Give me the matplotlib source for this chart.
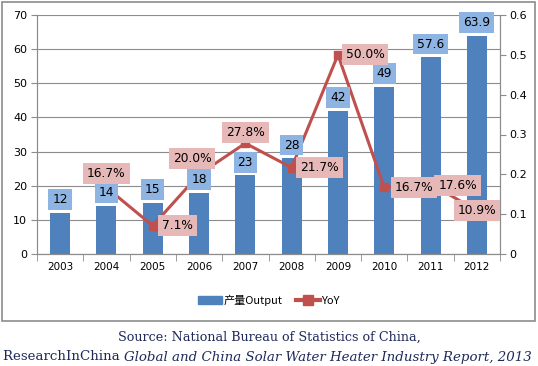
import numpy as np
import matplotlib.pyplot as plt
from matplotlib.patches import Rectangle
from matplotlib.lines import Line2D
from matplotlib.patches import Patch

plt.rcParams['font.family'] = ['DejaVu Sans', 'Noto Sans CJK SC']

years = ['2003', '2004', '2005', '2006', '2007', '2008', '2009', '2010', '2011', '2012']
output = [12, 14, 15, 18, 23, 28, 42, 49, 57.6, 63.9]
output_labels = ['12', '14', '15', '18', '23', '28', '42', '49', '57.6', '63.9']
yoy = [np.nan, 0.167, 0.071, 0.200, 0.278, 0.217, 0.500, 0.167, 0.176, 0.109]
yoy_labels = ['', '16.7%', '7.1%', '20.0%', '27.8%', '21.7%', '50.0%', '16.7%', '17.6%', '10.9%']
# label offsets (points) for the yoy boxes
yoy_offsets = [(0, 0), (0, 10), (18, 0), (-5, 11.5), (0, 8), (20, 0), (19.5, 0), (21.5, 0), (19.5, -1), (0, 0)]

bar_col = '#4F81BD'
line_col = '#C0504D'

fig = plt.figure(figsize=(5.38, 3.66), dpi=100)
fig.patch.set_facecolor('white')
# outer frame
fig.add_artist(Rectangle((2 / 538, 1 - 321 / 366), 533 / 538, 319 / 366,
                         transform=fig.transFigure, fill=False, edgecolor='#8c8c8c', lw=1.2))

ax = fig.add_axes([37 / 538, 1 - 254 / 366, 463 / 538, 239 / 366])
x = np.arange(len(years))
ax.bar(x, output, width=0.43, color=bar_col, zorder=2)
ax.set_xlim(-0.5, len(years) - 0.5)
ax.set_ylim(0, 70)
ax.set_yticks(range(0, 71, 10))
ax.yaxis.grid(True, color='#8c8c8c', lw=0.8)
ax.set_axisbelow(True)
ax.set_xticks(x)
ax.set_xticklabels(years, fontsize=7.5)
ax.set_xticks(np.arange(-0.5, len(years), 1), minor=True)
ax.tick_params(axis='x', which='major', length=0, pad=6)
ax.tick_params(axis='x', which='minor', length=5, color='#8c8c8c', direction='out')
ax.tick_params(axis='y', labelsize=8, length=4, color='#8c8c8c', pad=3)
ax.spines['top'].set_visible(False)
for s in ['left', 'bottom', 'right']:
    ax.spines[s].set_color('#8c8c8c')

ax2 = ax.twinx()
ax2.set_ylim(0, 0.6)
ax2.set_yticks(np.arange(0, 0.61, 0.1))
ax2.set_yticklabels(['0', '0.1', '0.2', '0.3', '0.4', '0.5', '0.6'])
ax2.tick_params(axis='y', labelsize=8, length=4, color='#8c8c8c', pad=3)
ax2.spines['top'].set_visible(False)
for s in ['left', 'bottom', 'right']:
    ax2.spines[s].set_color('#8c8c8c')
ax2.plot(x, yoy, color=line_col, lw=2.2, marker='s', ms=6, zorder=3)

# bar labels drawn on the top axes so they sit above the line
for xi, v, lab in zip(x, output, output_labels):
    ax2.annotate(lab, (xi, v), xycoords=ax.transData, xytext=(0, 9.6), textcoords='offset points',
                 ha='center', va='center', fontsize=8.8, zorder=6,
                 bbox=dict(boxstyle='square,pad=0.32', fc='#8DB4E2', ec='none'))

for xi, v, lab, off in zip(x, yoy, yoy_labels, yoy_offsets):
    if lab:
        ax2.annotate(lab, (xi, v), xytext=off, textcoords='offset points',
                     ha='center', va='center', fontsize=8.8, zorder=6,
                     bbox=dict(boxstyle='square,pad=0.32', fc='#E6B9B8', ec='none'))

handles = [Patch(color=bar_col), Line2D([], [], color=line_col, lw=3, marker='s', ms=7)]
fig.legend(handles, ['产量Output', 'YoY'], loc='center', bbox_to_anchor=(0.5, 1 - 300 / 366),
           ncol=2, frameon=False, handlelength=2.2, handletextpad=0.1,
           columnspacing=1.2, prop={'family': ['Noto Sans CJK SC', 'DejaVu Sans'], 'size': 8})

fig.text(0.5, 1 - 337 / 366, 'Source: National Bureau of Statistics of China,',
         ha='center', va='center', fontsize=9.2, family='DejaVu Serif', color='#1f2a5a')
t1 = fig.text(3 / 538, 1 - 357 / 366, 'ResearchInChina ', ha='left', va='center',
              fontsize=9.6, family='DejaVu Serif', color='#1f2a5a')
fig.canvas.draw()
bb = t1.get_window_extent()
x2 = bb.x1 / fig.bbox.width
fig.text(x2, 1 - 357 / 366, 'Global and China Solar Water Heater Industry Report, 2013',
         ha='left', va='center', fontsize=9.6, family='DejaVu Serif', style='italic', color='#1f2a5a')

fig.savefig('out.png', dpi=100)
